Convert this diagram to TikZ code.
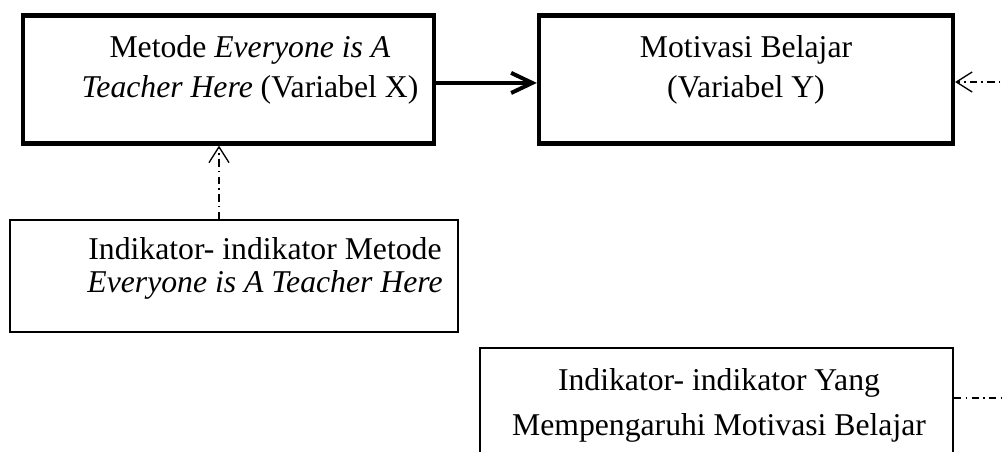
\documentclass[tikz,border=0pt]{standalone}
\usepackage{fontspec}
\setmainfont{Liberation Serif}
\usetikzlibrary{arrows.meta}

\newcommand{\px}{0.3785pt}

\begin{document}
\begin{tikzpicture}[x=0.3785pt, y=-0.3785pt,
		thickbox/.style={draw, line width=1.6pt, inner sep=0pt},
		thinbox/.style={draw, line width=0.8pt, inner sep=0pt},
		boxtext/.style={align=center, anchor=base, font=\fontsize{12}{#1}\selectfont},
		linkline/.style={line width=0.5pt, dash pattern=on 2.8pt off 1.6pt on 0.6pt off 1.6pt},
		mainarrow/.style={-{Straight Barb[length=8pt, width=7.6pt]}, line width=1.5pt},
		linkarrow/.style={-{Straight Barb[length=6pt, width=7.6pt]}}]
		\useasboundingbox (0,0) rectangle (1004,452);
		\clip (0,0) rectangle (1004,452);
		% boxes
		\node[thickbox, minimum width=411*\px, minimum height=128*\px] (varx) at (228.5,79.5) {};
		\node[thickbox, minimum width=414*\px, minimum height=128*\px] (vary) at (746,79.5) {};
		\node[thinbox, minimum width=448*\px, minimum height=112*\px] (indx) at (234,276) {};
		\node[thinbox, minimum width=473*\px, minimum height=132*\px] (indy) at (716.5,414) {};
		% texts (anchored at the baseline of the last line)
		\node[boxtext=15pt] (varxtext) at (250,97) {Metode \textit{Everyone is A}\\\textit{Teacher Here} (Variabel X)};
		\node[boxtext=15pt] (varytext) at (746,97) {Motivasi Belajar\\(Variabel Y)};
		\node[boxtext=12.4pt] (indxtext) at (265,292) {Indikator- indikator Metode\\\textit{Everyone is A Teacher Here}};
		\node[boxtext=16.7pt] (indytext) at (719,435) {Indikator- indikator Yang\\Mempengaruhi Motivasi Belajar};
		% connectors
		\coordinate (upx) at (219,0);
		\coordinate (yin) at (1012,82);
		\coordinate (indyout) at (1012,398);
		\draw[mainarrow] ([yshift=-1.3pt]varx.east) -- ([yshift=-1.3pt]vary.west);
		\draw[linkline, linkarrow] (upx |- indx.north) -- (upx |- varx.south);
		\draw[linkline, linkarrow] (yin) -- (vary.east |- yin);
		\draw[linkline] (indy.east |- indyout) -- (indyout);
	\end{tikzpicture}
\end{document}
